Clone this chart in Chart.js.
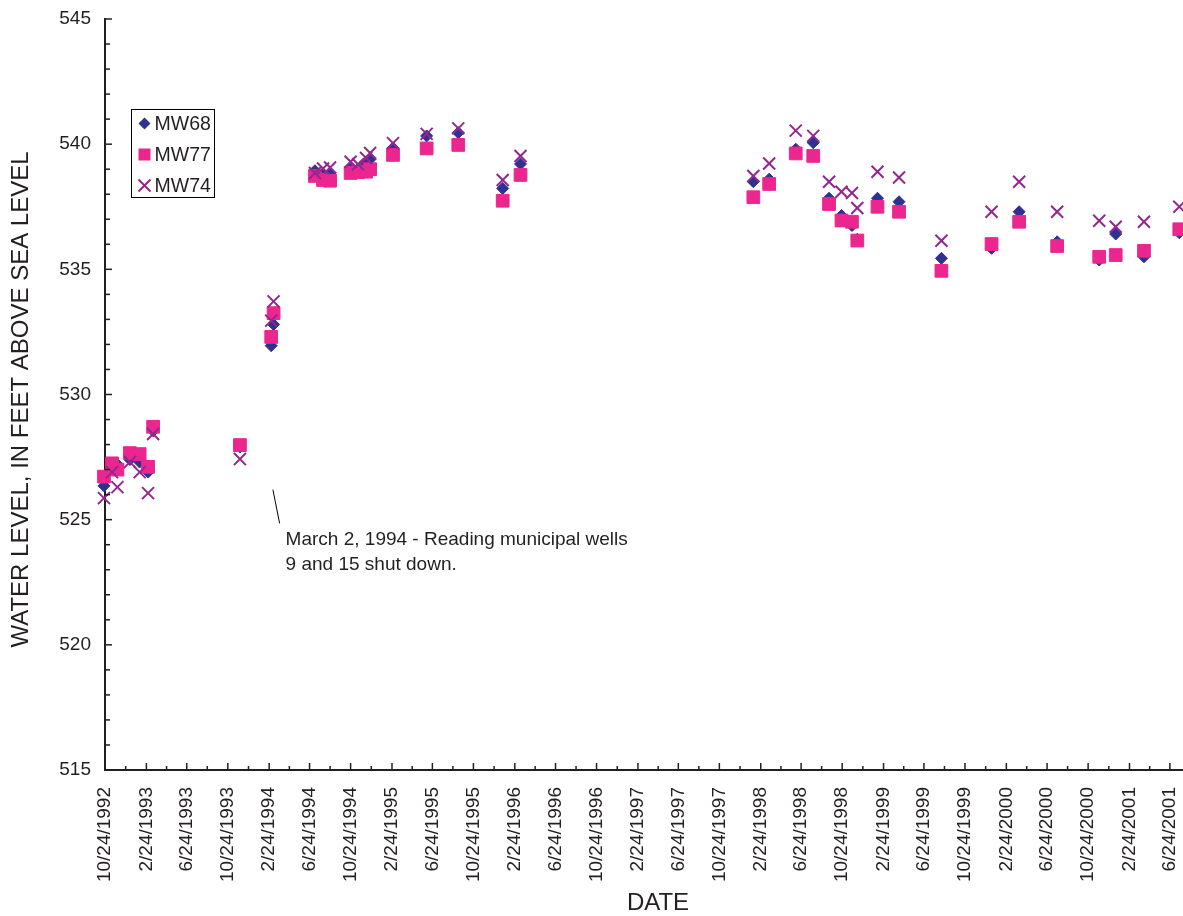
<!DOCTYPE html>
<html>
<head>
<meta charset="utf-8">
<title>Water level MW68 / MW77 / MW74</title>
<script src="https://cdn.jsdelivr.net/npm/chart.js@4.4.0/dist/chart.umd.min.js"></script>
<style>
  html, body { margin: 0; padding: 0; background: #fff; }
  #wrap { width: 1183px; height: 916px; position: relative; }
</style>
</head>
<body>
<div id="wrap"><canvas id="waterLevelChart"></canvas></div>
<script>
// sample dates (shared by the three wells)
const sampleDates = [
  "1992-10-21", "1992-11-14", "1992-11-30", "1993-01-06", "1993-02-04",
  "1993-03-01", "1993-03-16", "1993-11-29", "1994-03-02", "1994-03-09",
  "1994-07-10", "1994-08-03", "1994-08-24", "1994-10-24", "1994-11-15",
  "1994-12-09", "1994-12-21", "1995-02-27", "1995-06-07", "1995-09-09",
  "1996-01-19", "1996-03-12", "1998-02-02", "1998-03-21", "1998-06-08",
  "1998-07-30", "1998-09-15", "1998-10-22", "1998-11-22", "1998-12-08",
  "1999-02-06", "1999-04-11", "1999-08-15", "2000-01-11", "2000-04-02",
  "2000-07-24", "2000-11-26", "2001-01-14", "2001-04-08", "2001-07-22"
];
const mw68 = [
  526.35, 527.1, 527.2, 527.4, 527.3,
  526.9, 528.55, 527.9, 531.95, 532.8,
  538.94, 538.8, 538.85, 539.0, 539.0,
  539.2, 539.4, 539.85, 540.33, 540.46,
  538.23, 539.21, 538.5, 538.6, 539.8,
  540.06, 537.84, 537.15, 536.75, 536.2,
  537.84, 537.7, 535.44, 535.84, 537.3,
  536.1, 535.37, 536.41, 535.5, 536.46
];
const mw77 = [
  526.72, 527.25, 527.0, 527.66, 527.62,
  527.11, 528.71, 527.98, 532.3, 533.25,
  538.73, 538.57, 538.54, 538.85, 538.88,
  538.9, 539.0, 539.57, 539.83, 539.97,
  537.74, 538.77, 537.88, 538.41, 539.63,
  539.53, 537.61, 536.95, 536.9, 536.15,
  537.5, 537.3, 534.94, 536.01, 536.9,
  535.93, 535.5, 535.57, 535.74, 536.6
];
const mw74 = [
  525.86, 526.9, 526.3, 527.3, 526.9,
  526.06, 528.42, 527.42, 532.95, 533.72,
  538.85, 539.03, 539.07, 539.3, 539.2,
  539.45, 539.65, 540.04, 540.41, 540.63,
  538.57, 539.53, 538.73, 539.23, 540.54,
  540.33, 538.5, 538.1, 538.05, 537.45,
  538.9, 538.67, 536.14, 537.3, 538.5,
  537.3, 536.94, 536.7, 536.9, 537.5
];

const tickLabels = [
  "10/24/1992",
  "2/24/1993", "6/24/1993", "10/24/1993",
  "2/24/1994", "6/24/1994", "10/24/1994",
  "2/24/1995", "6/24/1995", "10/24/1995",
  "2/24/1996", "6/24/1996", "10/24/1996",
  "2/24/1997", "6/24/1997", "10/24/1997",
  "2/24/1998", "6/24/1998", "10/24/1998",
  "2/24/1999", "6/24/1999", "10/24/1999",
  "2/24/2000", "6/24/2000", "10/24/2000",
  "2/24/2001", "6/24/2001"
];
const xEnd = "2001-08-02";
const yMin = 515, yMax = 545, yStep = 5;

const FONT = "'Liberation Sans', Arial, Helvetica, sans-serif";
const TEXT = "#231f20";
const BLUE = "#2e3192", PINK = "#ec268f", PURPLE = "#92278f";

const isoToDay = (s) => {
  const [y, m, d] = s.split("-").map(Number);
  return Date.UTC(y, m - 1, d) / 86400000;
};
const labelToDay = (s) => {
  const [m, d, y] = s.split("/").map(Number);
  return Date.UTC(y, m - 1, d) / 86400000;
};
const dayToLabel = (v) => {
  const dt = new Date(Math.round(v) * 86400000);
  return (dt.getUTCMonth() + 1) + "/" + dt.getUTCDate() + "/" + dt.getUTCFullYear();
};
const majorDays = tickLabels.map(labelToDay);
const toPoints = (vals) => sampleDates.map((d, i) => ({ x: isoToDay(d), y: vals[i] }));

// small inward tick marks, like the original plot
const insideTicks = {
  id: "insideTicks",
  afterDraw(chart) {
    const { ctx, scales: { x, y } } = chart;
    const line = (x1, y1, x2, y2) => {
      ctx.beginPath(); ctx.moveTo(x1, y1); ctx.lineTo(x2, y2); ctx.stroke();
    };
    ctx.save();
    ctx.strokeStyle = TEXT;
    ctx.lineWidth = 1.5;
    majorDays.forEach((d, i) => {
      const px = x.getPixelForValue(d);
      line(px, y.bottom, px, y.bottom - 7);
      if (i < majorDays.length - 1) {
        const mx = x.getPixelForValue((d + majorDays[i + 1]) / 2);
        line(mx, y.bottom, mx, y.bottom - 4);
      }
    });
    for (let v = yMin; v <= yMax; v++) {
      const py = y.getPixelForValue(v);
      line(x.left, py, x.left + (v % yStep === 0 ? 7 : 5), py);
    }
    ctx.restore();
  }
};

// note about the municipal wells + axis titles (placed like the original)
const wellNote = {
  id: "wellNote",
  afterDraw(chart) {
    const { ctx, scales: { x, y } } = chart;
    const x1 = x.getPixelForValue(isoToDay("1994-03-07"));
    const y1 = y.getPixelForValue(526.2);
    const x2 = x.getPixelForValue(isoToDay("1994-03-27"));
    const y2 = y.getPixelForValue(524.85);
    ctx.save();
    ctx.strokeStyle = "#000";
    ctx.lineWidth = 1;
    ctx.beginPath(); ctx.moveTo(x1, y1); ctx.lineTo(x2, y2); ctx.stroke();
    ctx.fillStyle = TEXT;
    ctx.font = "19px " + FONT;
    ctx.textBaseline = "alphabetic";
    ctx.fillText("March 2, 1994 - Reading municipal wells", x2 + 6, y2 + 22);
    ctx.fillText("9 and 15 shut down.", x2 + 6, y2 + 47);

    ctx.font = "24px " + FONT;
    ctx.textAlign = "center";
    ctx.textBaseline = "middle";
    ctx.fillText("DATE", x.left + (x.right - x.left) / 2 + 14, 903);

    ctx.translate(21, (y.top + y.bottom) / 2 + 5);
    ctx.rotate(-Math.PI / 2);
    ctx.fillText("WATER LEVEL, IN FEET ABOVE SEA LEVEL", 0, 0);
    ctx.restore();
  }
};

// boxed legend inside the plot
const boxLegend = {
  id: "boxLegend",
  afterDraw(chart) {
    const { ctx } = chart;
    const left = 131.5, top = 109.5, w = 83, h = 88;
    ctx.save();
    ctx.fillStyle = "#fff";
    ctx.fillRect(left, top, w, h);
    ctx.strokeStyle = "#000";
    ctx.lineWidth = 1;
    ctx.strokeRect(left, top, w, h);
    ctx.font = "19.5px " + FONT;
    ctx.textBaseline = "middle";
    const mx = left + 13;
    chart.data.datasets.forEach((ds, i) => {
      const cy = top + 14 + i * 31;
      if (ds.pointStyle === "rectRot") {
        ctx.fillStyle = ds.backgroundColor;
        ctx.beginPath();
        ctx.moveTo(mx, cy - 6); ctx.lineTo(mx + 6, cy); ctx.lineTo(mx, cy + 6); ctx.lineTo(mx - 6, cy);
        ctx.closePath(); ctx.fill();
      } else if (ds.pointStyle === "rect") {
        ctx.fillStyle = ds.backgroundColor;
        ctx.fillRect(mx - 6, cy - 6, 12, 12);
      } else {
        ctx.strokeStyle = ds.borderColor;
        ctx.lineWidth = 2;
        ctx.beginPath();
        ctx.moveTo(mx - 6, cy - 6); ctx.lineTo(mx + 6, cy + 6);
        ctx.moveTo(mx + 6, cy - 6); ctx.lineTo(mx - 6, cy + 6);
        ctx.stroke();
      }
      ctx.fillStyle = TEXT;
      ctx.fillText(ds.label, left + 23, cy + 1);
    });
    ctx.restore();
  }
};

const ctx = document.getElementById("waterLevelChart").getContext("2d");
new Chart(ctx, {
  type: "scatter",
  data: {
    datasets: [
      {
        label: "MW68",
        data: toPoints(mw68),
        pointStyle: "rectRot",
        radius: 6,
        backgroundColor: BLUE,
        borderColor: BLUE,
        borderWidth: 1,
        clip: false,
        order: 3,
      },
      {
        label: "MW77",
        data: toPoints(mw77),
        pointStyle: "rect",
        radius: 9,
        backgroundColor: PINK,
        borderColor: PINK,
        borderWidth: 1,
        clip: false,
        order: 2,
      },
      {
        label: "MW74",
        data: toPoints(mw74),
        pointStyle: "crossRot",
        radius: 8.5,
        backgroundColor: PURPLE,
        borderColor: PURPLE,
        borderWidth: 2,
        clip: false,
        order: 1,
      },
    ],
  },
  options: {
    responsive: true,
    maintainAspectRatio: false,
    animation: false,
    layout: { autoPadding: false, padding: { top: 19, right: 0, left: 0, bottom: 0 } },
    plugins: {
      legend: { display: false },
      tooltip: { enabled: false },
    },
    scales: {
      x: {
        type: "linear",
        min: majorDays[0],
        max: isoToDay(xEnd),
        afterBuildTicks: (scale) => {
          scale.ticks = majorDays.map((v) => ({ value: v }));
        },
        afterFit: (scale) => {
          scale.height = 146;
          scale.paddingLeft = 0;
          scale.paddingRight = 0;
          scale.paddingTop = 0;
          scale.paddingBottom = 0;
        },
        ticks: {
          autoSkip: false,
          minRotation: 90,
          maxRotation: 90,
          padding: 17,
          color: TEXT,
          font: { size: 19, family: FONT },
          callback: (v) => dayToLabel(v),
        },
        grid: { display: false, drawTicks: false },
        border: { color: TEXT, width: 2 },
        title: { display: false },
      },
      y: {
        min: yMin,
        max: yMax,
        afterFit: (scale) => {
          scale.width = 105;
          scale.paddingLeft = 0;
          scale.paddingRight = 0;
          scale.paddingTop = 0;
          scale.paddingBottom = 0;
        },
        ticks: {
          stepSize: yStep,
          padding: 14,
          color: TEXT,
          font: { size: 19, family: FONT },
        },
        grid: { display: false, drawTicks: false },
        border: { color: TEXT, width: 2 },
        title: { display: false },
      },
    },
  },
  plugins: [insideTicks, wellNote, boxLegend],
});
</script>
</body>
</html>
